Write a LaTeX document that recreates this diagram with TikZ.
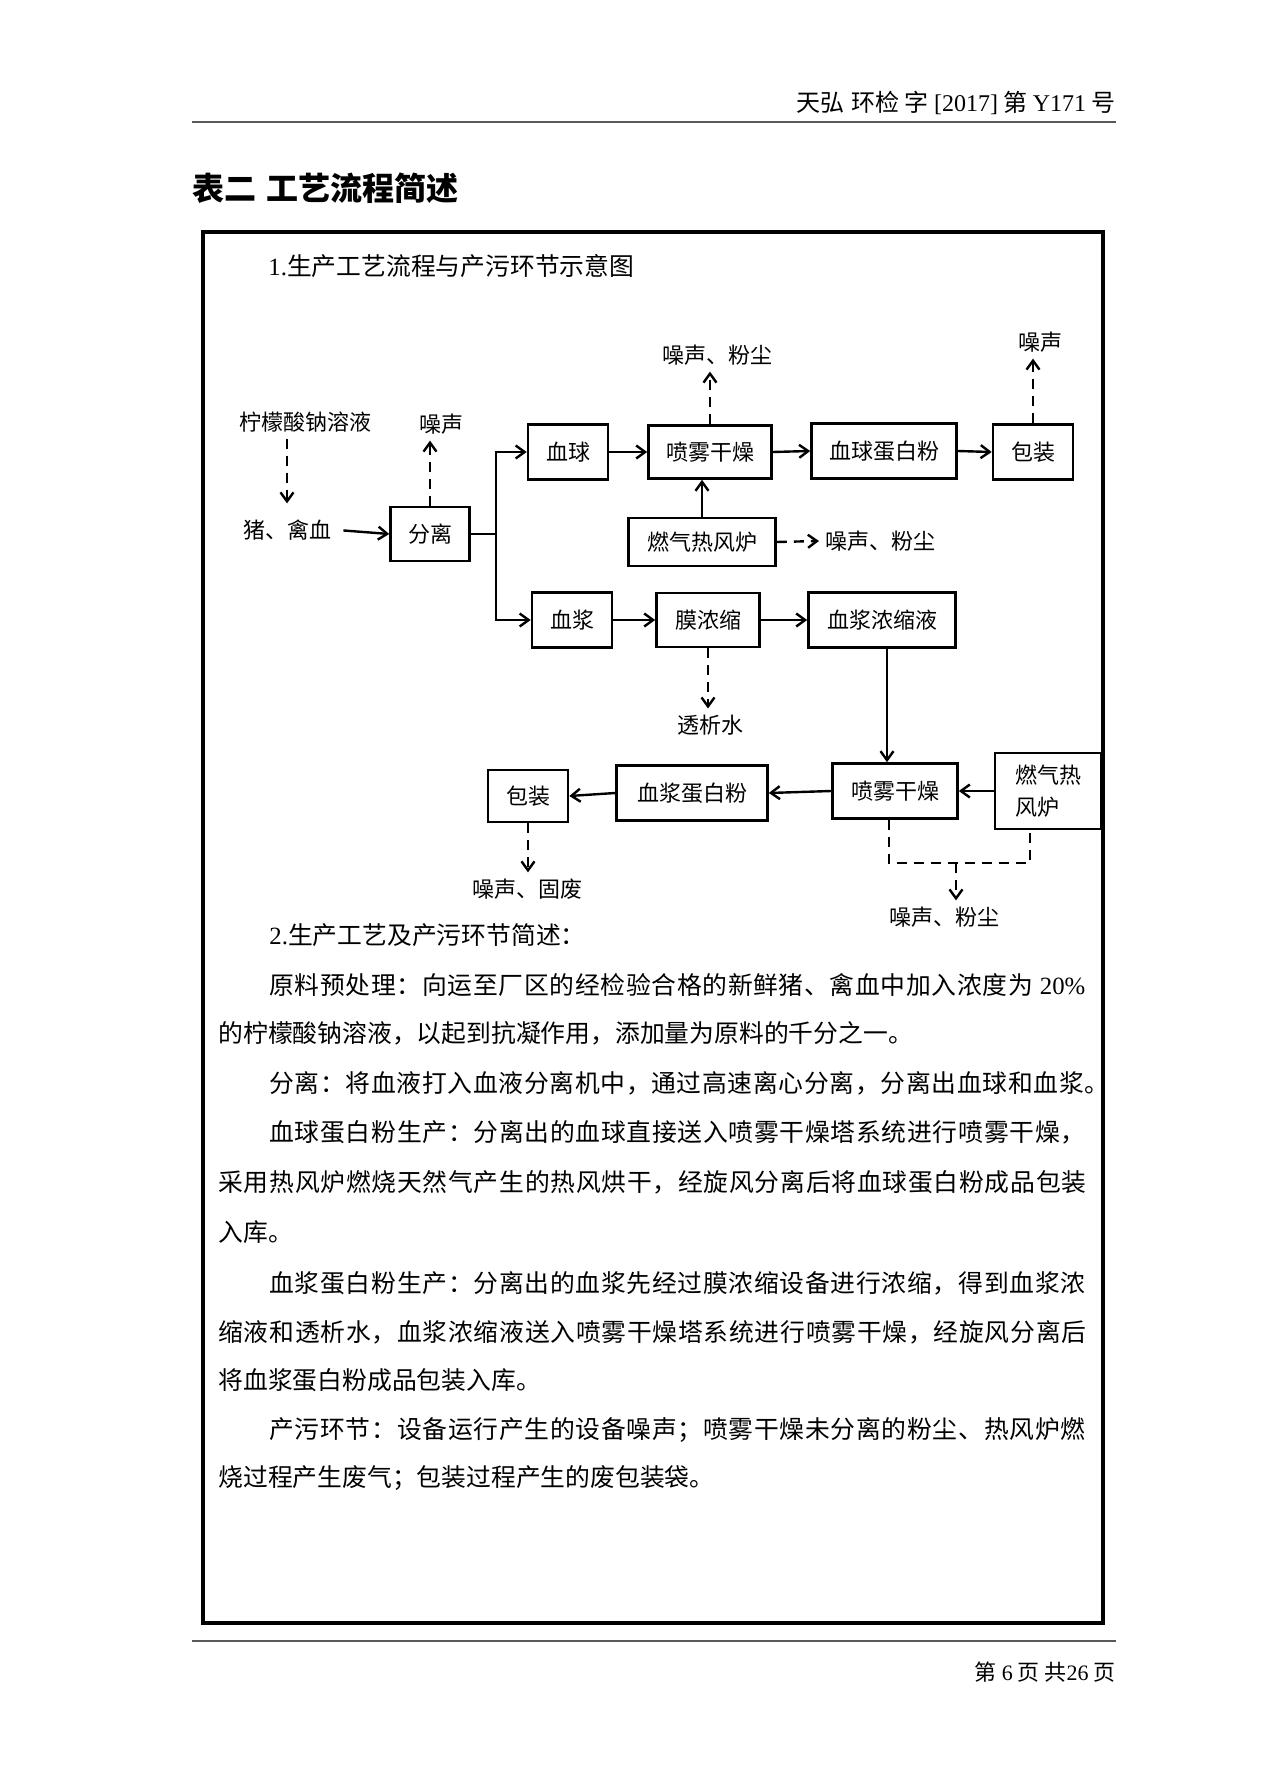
\documentclass[tikz,border=0pt]{standalone}
\usepackage{fontspec}
\setmainfont{Noto Sans CJK SC}
\newfontfamily\lat{Liberation Serif}
\usetikzlibrary{arrows.meta}

\newcommand\diagfont{\fontsize{11}{16}\selectfont}
\newcommand\bodyfont{\fontsize{12.4}{15}\selectfont}
% spread the characters of a full line over a given width
\def\spreadend{}
\def\spreadnext#1{\ifx\spreadend#1\else#1\hskip 0pt plus 1fil\expandafter\spreadnext\fi}
\newcommand\fullline[2]{\hbox to #1{\spreadnext#2\spreadend\unskip}}

\tikzset{
    % boxes of the flow chart
    proc/.style={
        rectangle,
        draw=black,
        line width=1.3pt,
        minimum width=40pt,
        minimum height=27.5pt,
        inner sep=2pt,
        align=center,
        font=\diagfont
    },
    label text/.style={
        inner sep=3pt,
        font=\diagfont
    },
    flow arrow/.style={
        line width=1.2pt,
        -{Straight Barb[length=4.5pt,width=6.5pt]}
    },
    waste line/.style={
        line width=1.2pt,
        dash pattern=on 5pt off 3.5pt
    },
    waste arrow/.style={
        waste line,
        -{Straight Barb[length=4.5pt,width=6.5pt]}
    },
    body line/.style={
        anchor=west,
        inner sep=0pt,
        font=\bodyfont
    }
}

\begin{document}
\begin{tikzpicture}[x=0.5pt, y=-0.5pt]
    \useasboundingbox (0,0) rectangle (1266,1791);

    % page header
    \node[anchor=east, inner sep=0pt, font=\fontsize{12}{14}\selectfont] (header) at (1116,103) {天弘\hspace{1pt} 环检 字 {\lat [2017]} 第 {\lat Y171} 号};
    \draw[line width=1pt, black!65] (192,122) -- (1116,122);
    \node[anchor=west, inner sep=0pt, font=\fontsize{16}{18}\selectfont\bfseries] (title) at (192,188) {表二\hspace{5pt}工艺流程简述};

    % frame
    \draw[line width=1.6pt] (203,232) rectangle (1103,1623);

    \node[body line] (heading1) at (268,266) {{\lat 1.}生产工艺流程与产污环节示意图};

    % raw blood and separation
    \node[label text] (citrate) at (305,422) {柠檬酸钠溶液};
    \node[label text] (blood) at (287,530) {猪、禽血};
    \node[label text] (noiseA) at (441,424) {噪声};
    \node[proc, minimum width=39.5pt, minimum height=27pt] (sep) at (430,534) {分离};

    % blood cell line
    \node[proc] (rbc) at (568,452) {血球};
    \node[proc, minimum width=61.5pt, minimum height=26.5pt] (dryA) at (710,452) {喷雾干燥};
    \node[proc, minimum width=72.5pt] (rbcp) at (884,451) {血球蛋白粉};
    \node[proc] (packA) at (1033,452) {包装};
    \node[proc, minimum width=73.5pt, minimum height=24pt] (furnA) at (702,542) {燃气热风炉};
    \node[label text] (dustA) at (717,355) {噪声、粉尘};
    \node[label text] (noiseB) at (1040,342) {噪声};
    \node[label text, anchor=west] (dustB) at (819,541) {噪声、粉尘};

    % plasma line
    \node[proc] (plasma) at (572,620) {血浆};
    \node[proc, minimum width=51.5pt, minimum height=27pt] (memb) at (708,620) {膜浓缩};
    \node[proc, minimum width=73.5pt] (conc) at (882,620) {血浆浓缩液};
    \node[label text] (water) at (710,725) {透析水};
    \node[proc, minimum width=62.5pt] (dryB) at (895,791) {喷雾干燥};
    \node[proc, minimum width=53pt, minimum height=38pt, align=left] (furnB) at (1048,791) {燃气热\\风炉};
    \node[proc, minimum width=75.5pt] (plp) at (692,793) {血浆蛋白粉};
    \node[proc, minimum height=26pt] (packB) at (528,796) {包装};
    \node[label text] (solid) at (527,889) {噪声、固废};
    \node[label text] (dustC) at (944,917) {噪声、粉尘};
    \coordinate (dustjoin) at (956,863);

    % connectors
    \draw[waste arrow, shorten >=5pt] (blood.north |- citrate.south) -- (blood.north);
    \draw[flow arrow, shorten <=3pt] (blood.east) -- (sep.west);
    \draw[waste arrow] (sep.north) -- (sep.north |- noiseA.south);
    \draw[flow arrow] (sep.east) -- ++(25,0) |- (rbc.west);
    \draw[flow arrow] (sep.east) -- ++(25,0) |- (plasma.west);
    \draw[flow arrow] (rbc.east) -- (dryA.west);
    \draw[flow arrow] (dryA.east) -- (rbcp.west);
    \draw[flow arrow] (rbcp.east) -- (packA.west);
    \draw[waste arrow] (dryA.north) -- (dryA.north |- dustA.south);
    \draw[waste arrow] (packA.north) -- (packA.north |- noiseB.south);
    \draw[flow arrow] (furnA.north) -- (furnA.north |- dryA.south);
    \draw[waste arrow] (furnA.east) -- (dustB.west);
    \draw[flow arrow] (plasma.east) -- (memb.west);
    \draw[flow arrow] (memb.east) -- (conc.west);
    \draw[waste arrow] (memb.south) -- (memb.south |- water.north);
    \draw[flow arrow] ([xshift=2.5pt]conc.south) -- ([xshift=2.5pt]conc.south |- dryB.north);
    \draw[flow arrow] (furnB.west) -- (dryB.east);
    \draw[flow arrow] (dryB.west) -- (plp.east);
    \draw[flow arrow] (plp.west) -- (packB.east);
    \draw[waste arrow] (packB.south) -- (packB.south |- solid.north);
    \draw[waste line] ([xshift=-3pt]dryB.south) |- (dustjoin) -| ([xshift=-9pt]furnB.south);
    \draw[waste arrow] (dustjoin) -- (dustjoin |- dustC.north);

    % description
    \node[body line] (heading2) at (269,935) {{\lat 2.}生产工艺及产污环节简述：};
    \node[body line] (line1) at (269,985) {\fullline{408pt}{原料预处理：向运至厂区的经检验合格的新鲜猪、禽血中加入浓度为{\lat\ 20\%}}};
    \node[body line] (line2) at (218,1033) {的柠檬酸钠溶液，以起到抗凝作用，添加量为原料的千分之一。};
    \node[body line] (line3) at (269,1083) {\fullline{420pt}{分离：将血液打入血液分离机中，通过高速离心分离，分离出血球和血浆。}};
    \node[body line] (line4) at (269,1132) {\fullline{408pt}{血球蛋白粉生产：分离出的血球直接送入喷雾干燥塔系统进行喷雾干燥，}};
    \node[body line] (line5) at (218,1182) {\fullline{434pt}{采用热风炉燃烧天然气产生的热风烘干，经旋风分离后将血球蛋白粉成品包装}};
    \node[body line] (line6) at (218,1232) {入库。};
    \node[body line] (line7) at (269,1283) {\fullline{408pt}{血浆蛋白粉生产：分离出的血浆先经过膜浓缩设备进行浓缩，得到血浆浓}};
    \node[body line] (line8) at (218,1332) {\fullline{434pt}{缩液和透析水，血浆浓缩液送入喷雾干燥塔系统进行喷雾干燥，经旋风分离后}};
    \node[body line] (line9) at (218,1380) {将血浆蛋白粉成品包装入库。};
    \node[body line] (line10) at (269,1430) {\fullline{408pt}{产污环节：设备运行产生的设备噪声；喷雾干燥未分离的粉尘、热风炉燃}};
    \node[body line] (line11) at (218,1478) {烧过程产生废气；包装过程产生的废包装袋。};

    % page footer
    \draw[line width=1pt, black!65] (192,1641) -- (1116,1641);
    \node[anchor=east, inner sep=0pt, font=\fontsize{11}{13}\selectfont] (footer) at (1116,1672) {第 {\lat 6} 页 共{\lat 26} 页};
\end{tikzpicture}
\end{document}
